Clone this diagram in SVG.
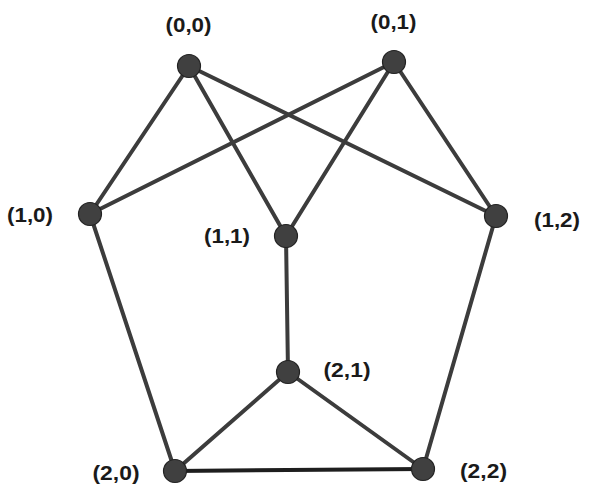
<svg xmlns="http://www.w3.org/2000/svg" width="590" height="495" viewBox="0 0 590 495">
<style>
.e{stroke:#3c3c3c;stroke-width:4;fill:none;stroke-linecap:round}
.n{fill:#404040;stroke:#222;stroke-width:1.2}
.t{font-family:"Liberation Sans",Arial,sans-serif;font-weight:bold;font-size:21px;fill:#1a1a1a;text-anchor:middle}
</style>
<rect width="590" height="495" fill="#fff"/>
<g id="edges">
<line class="e" x1="189" y1="66" x2="90" y2="214"/>
<line class="e" x1="189" y1="66" x2="286" y2="236"/>
<line class="e" x1="189" y1="66" x2="496" y2="216"/>
<line class="e" x1="394" y1="62" x2="90" y2="214"/>
<line class="e" x1="394" y1="62" x2="286" y2="236"/>
<line class="e" x1="394" y1="62" x2="496" y2="216"/>
<line class="e" x1="90" y1="214" x2="175" y2="471"/>
<line class="e" x1="286" y1="236" x2="288" y2="372"/>
<line class="e" x1="496" y1="216" x2="423" y2="469"/>
<line class="e" x1="288" y1="372" x2="175" y2="471"/>
<line class="e" x1="288" y1="372" x2="423" y2="469"/>
<line class="e" style="stroke:#1e1e1e" x1="175" y1="471" x2="423" y2="469"/>
</g>
<g id="n00"><circle class="n" cx="189" cy="66" r="11.5"/><text class="t" x="188.5" y="32" textLength="46" lengthAdjust="spacingAndGlyphs">(0,0)</text></g>
<g id="n01"><circle class="n" cx="394" cy="62" r="11.5"/><text class="t" x="393.5" y="29" textLength="46" lengthAdjust="spacingAndGlyphs">(0,1)</text></g>
<g id="n10"><circle class="n" cx="90" cy="214" r="11.5"/><text class="t" x="30" y="222" textLength="46" lengthAdjust="spacingAndGlyphs">(1,0)</text></g>
<g id="n11"><circle class="n" cx="286" cy="236" r="11.5"/><text class="t" x="227" y="243" textLength="46" lengthAdjust="spacingAndGlyphs">(1,1)</text></g>
<g id="n12"><circle class="n" cx="496" cy="216" r="11.5"/><text class="t" x="557" y="227" textLength="46" lengthAdjust="spacingAndGlyphs">(1,2)</text></g>
<g id="n21"><circle class="n" cx="288" cy="372" r="11.5"/><text class="t" x="347" y="377" textLength="47" lengthAdjust="spacingAndGlyphs">(2,1)</text></g>
<g id="n20"><circle class="n" cx="175" cy="471" r="11.5"/><text class="t" x="116" y="480" textLength="47" lengthAdjust="spacingAndGlyphs">(2,0)</text></g>
<g id="n22"><circle class="n" cx="423" cy="469" r="11.5"/><text class="t" x="483.5" y="478" textLength="47" lengthAdjust="spacingAndGlyphs">(2,2)</text></g>
</svg>
